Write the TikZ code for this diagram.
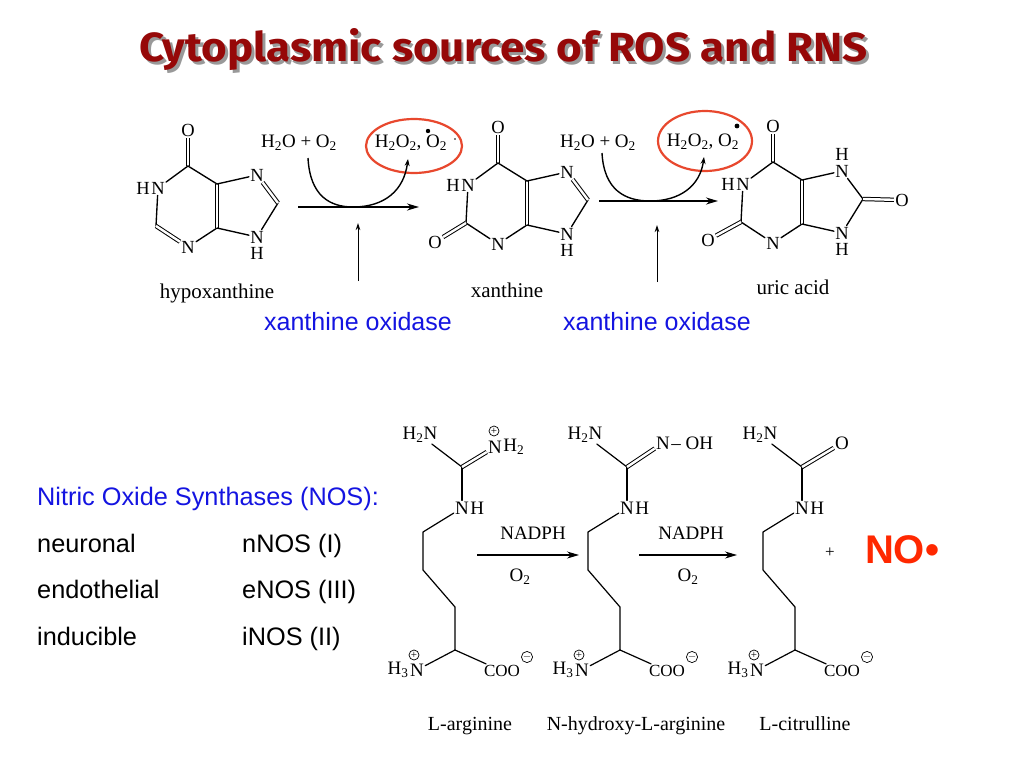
\documentclass[tikz,border=0pt]{standalone}
\usepackage{fontspec}
\setmainfont{Liberation Serif}
\newfontfamily\arialf{Liberation Sans}
\newfontfamily\titlef{Fira Sans}
\usetikzlibrary{arrows.meta}
\definecolor{titlered}{RGB}{150,8,8}
\definecolor{ellred}{RGB}{232,72,46}
\definecolor{oxblue}{RGB}{20,20,225}
\definecolor{nored}{RGB}{255,40,0}
\newcommand\fsz[1]{\fontsize{#1}{#1}\selectfont}
\tikzset{
  bond/.style={line width=1.35pt, line cap=round, line join=round},
  dbond/.style={double, double distance=2.4pt, line width=1pt},
  atom/.style={inner sep=1.2pt, font=\fsz{18.5}},
  atomb/.style={inner sep=1.2pt, font=\fsz{19}},
  atomc/.style={inner sep=1.2pt, font=\fsz{17}},
  chemtxt/.style={inner sep=1pt, font=\fsz{19}},
  chemlab/.style={inner sep=1pt, font=\fsz{21}},
  bottomlab/.style={inner sep=0pt, anchor=base, font=\fsz{20}},
  chg/.style={circle, draw, line width=0.7pt, inner sep=0pt, minimum size=10pt, font=\fsz{11}},
  bigarrow/.style={line width=1.9pt, -{Stealth[length=12pt,width=7pt]}},
  curvearrow/.style={line width=1.4pt, -{Stealth[length=7pt,width=5pt]}},
  enzarrow/.style={line width=1pt, -{Stealth[length=7pt,width=4.5pt]}},
  nosarrow/.style={line width=1.1pt, -{Stealth[length=12pt,width=7pt]}},
  oxtext/.style={inner sep=0pt, text=oxblue, font=\arialf\fsz{25}},
  nostxt/.style={inner sep=0pt, anchor=base west, font=\arialf\fsz{25.3}},
}
% purine skeleton (hypoxanthine frame)
\newcommand\purinebase{%
  \coordinate (C2) at (156,226);
  \coordinate (C4) at (217,228);
  \coordinate (C5) at (217,184);
  \coordinate (C6) at (188,166);
  \coordinate (C8) at (278,203);
  \node[atom] (N1) at (158,188) {N};
  \node[atom,anchor=east,inner xsep=0pt] (H1) at (N1.west) {H};
  \node[atom] (N3) at (188,247) {N};
  \node[atom] (N7) at (257,175) {N};
  \node[atom] (N9) at (257,237) {N};
  \node[atom,anchor=north,inner ysep=0.5pt] (H9) at ([yshift=-2pt]N9.south) {H};
  \node[atom] (O6) at (188,130) {O};
  \draw[dbond] (C6) -- (O6);
  \draw[bond] (C6) -- (N1);
  \draw[bond] (N1) -- (C2);
  \draw[bond] (N3) -- (C4);
  \draw[dbond] (C4) -- (C5);
  \draw[bond] (C5) -- (C6);
  \draw[bond] (C5) -- (N7);
  \draw[bond] (C8) -- (N9);
  \draw[bond] (N9) -- (C4);
}
% amino acid frame (L-arginine frame)
\newcommand\aabase{%
  \coordinate (C) at (462,467);
  \node[atomb] (NH2) at (420,435) {H\textsubscript{2}N};
  \node[atomb] (Na) at (462,508) {N};
  \node[atomb,anchor=west,inner xsep=0pt] (Ha) at (Na.east) {H};
  \coordinate (c1) at (423,532);
  \coordinate (c2) at (423,570);
  \coordinate (c3) at (455,607);
  \coordinate (ca) at (455,650);
  \node[atomb] (Nb) at (417,670) {N};
  \node[atomb,anchor=east,inner xsep=0pt] (Hb) at (Nb.west) {H\textsubscript{3}};
  \node[chg] (pb) at (414,655) {+};
  \node[atomc] (COO) at (502,671) {COO};
  \node[chg] (mb) at (527,657) {$-$};
  \draw[bond, line width=1.2pt] (NH2) -- (C);
  \draw[bond, line width=1.2pt] (C) -- (Na);
  \draw[bond, line width=1.2pt] (Na) -- (c1) -- (c2) -- (c3) -- (ca);
  \draw[bond, line width=1.2pt] (ca) -- (Nb);
  \draw[bond, line width=1.2pt] (ca) -- (COO);
}
\begin{document}
\begin{tikzpicture}[x=1pt,y=-1pt]
\useasboundingbox (0,0) rectangle (1024,768);
\fill[white] (0,0) rectangle (1024,768);

% title
\node[anchor=base, inner sep=0pt, text=black!40] (titleshadow) at (506.5,64.5)
  {\resizebox{728pt}{33pt}{\titlef\bfseries Cytoplasmic sources of ROS and RNS}};
\node[anchor=base, inner sep=0pt, text=titlered] (title) at (504,62)
  {\resizebox{728pt}{33pt}{\titlef\bfseries Cytoplasmic sources of ROS and RNS}};

% ---------- purines ----------
\begin{scope}[name prefix=hx-]
  \purinebase
  \draw[dbond] (C2) -- (N3);
  \draw[dbond] (N7) -- (C8);
  \node[chemlab] (lab) at (217,293) {hypoxanthine};
\end{scope}

\begin{scope}[shift={(310,-3)}, name prefix=xa-]
  \purinebase
  \draw[bond] (C2) -- (N3);
  \node[atom] (O2) at (125,245) {O};
  \draw[dbond] (C2) -- (O2);
  \draw[dbond] (N7) -- (C8);
\end{scope}
\node[chemlab] (xa-lab) at (507,290) {xanthine};

\begin{scope}[shift={(585,-4)}, name prefix=ur-]
  \purinebase
  \draw[bond] (C2) -- (N3);
  \node[atom] (O2) at (123,244) {O};
  \draw[dbond] (C2) -- (O2);
  \draw[bond] (N7) -- (C8);
  \node[atom,anchor=south,inner ysep=0.5pt] (H7) at ([yshift=2pt]N7.north) {H};
  \node[atom] (O8) at (317,204) {O};
  \draw[dbond] (C8) -- (O8);
\end{scope}
\node[chemlab] (ur-lab) at (793,287) {uric acid};

% ---------- reaction 1 ----------
\node[chemtxt] (w1) at (299,143) {H\textsubscript{2}O + O\textsubscript{2}};
\node[chemtxt] (p1) at (411,143) {H\textsubscript{2}O\textsubscript{2}, O\textsubscript{2}};
\fill (428,131) circle (2.2pt);
\fill (455,139) circle (0.9pt);
\draw[ellred, line width=2.2pt] (414,146) ellipse [x radius=48, y radius=27];
\coordinate (a1s) at (298,207);
\coordinate (a1e) at (419,207);
\draw[bigarrow] (a1s) -- (a1e);
\coordinate (cu1s) at (308,158);
\coordinate (cu1m) at (353,207);
\coordinate (cu1e) at (408,159);
\draw[curvearrow] (cu1s) .. controls (310,196) and (330,207) .. (cu1m)
  .. controls (385,207) and (404,190) .. (cu1e);
\coordinate (e1s) at (358,281);
\coordinate (e1e) at (358,223);
\draw[enzarrow] (e1s) -- (e1e);
\node[oxtext] (ox1) at (358,322) {xanthine oxidase};

% ---------- reaction 2 ----------
\node[chemtxt] (w2) at (598,143) {H\textsubscript{2}O + O\textsubscript{2}};
\node[chemtxt] (p2) at (703,142) {H\textsubscript{2}O\textsubscript{2}, O\textsubscript{2}};
\fill (737,126) circle (2.4pt);
\draw[ellred, line width=2.2pt] (705,141) ellipse [x radius=47, y radius=30];
\coordinate (a2s) at (599,201);
\coordinate (a2e) at (718,201);
\draw[bigarrow] (a2s) -- (a2e);
\coordinate (cu2s) at (602,153);
\coordinate (cu2m) at (650,201);
\coordinate (cu2e) at (704,157);
\draw[curvearrow] (cu2s) .. controls (604,190) and (625,201) .. (cu2m)
  .. controls (680,201) and (700,186) .. (cu2e);
\coordinate (e2s) at (657,282);
\coordinate (e2e) at (657,225);
\draw[enzarrow] (e2s) -- (e2e);
\node[oxtext] (ox2) at (657,322) {xanthine oxidase};

% ---------- NOS text ----------
\node[nostxt, text=oxblue] (nos) at (37,505) {Nitric Oxide Synthases (NOS):};
\node[nostxt] (t1a) at (37,552) {neuronal};
\node[nostxt] (t1b) at (242,552) {nNOS (I)};
\node[nostxt] (t2a) at (37,598) {endothelial};
\node[nostxt] (t2b) at (242,598) {eNOS (III)};
\node[nostxt] (t3a) at (37,645) {inducible};
\node[nostxt] (t3b) at (242,645) {iNOS (II)};

% ---------- amino acids ----------
\begin{scope}[name prefix=ar-]
  \aabase
  \node[atomb] (Nc) at (495,447) {N};
  \node[atomb,anchor=west,inner xsep=0pt] (Hc) at (Nc.east) {H\textsubscript{2}};
  \node[chg] (pc) at (494,431) {+};
  \draw[dbond] (C) -- (Nc);
\end{scope}
\node[bottomlab] (ar-lab) at (470,730) {L-arginine};

\begin{scope}[shift={(165,0)}, name prefix=nh-]
  \aabase
  \node[atomb] (Nc) at (498,443) {N};
  \node[atomb,anchor=west,inner xsep=0pt] (Hc) at (Nc.east) {-- OH};
  \draw[dbond] (C) -- (Nc);
\end{scope}
\node[bottomlab] (nh-lab) at (636,730) {N-hydroxy-L-arginine};

\begin{scope}[shift={(340,0)}, name prefix=ci-]
  \aabase
  \node[atomb] (Oc) at (502,443) {O};
  \draw[dbond] (C) -- (Oc);
\end{scope}
\node[bottomlab] (ci-lab) at (805,730) {L-citrulline};

% NOS reaction arrows
\coordinate (b1s) at (477,555);
\coordinate (b1e) at (579,555);
\draw[nosarrow] (b1s) -- (b1e);
\node[chemtxt] (nadph1) at (533,533) {NADPH};
\node[chemtxt] (o21) at (520,577) {O\textsubscript{2}};
\coordinate (b2s) at (639,555);
\coordinate (b2e) at (737,555);
\draw[nosarrow] (b2s) -- (b2e);
\node[chemtxt] (nadph2) at (691,533) {NADPH};
\node[chemtxt] (o22) at (688,577) {O\textsubscript{2}};

\node[inner sep=0pt, font=\fsz{17}] (plus) at (830,553) {+};
\node[inner sep=0pt, text=nored, font=\arialf\bfseries\fsz{40}] (no) at (902,550) {NO•};
\end{tikzpicture}
\end{document}
